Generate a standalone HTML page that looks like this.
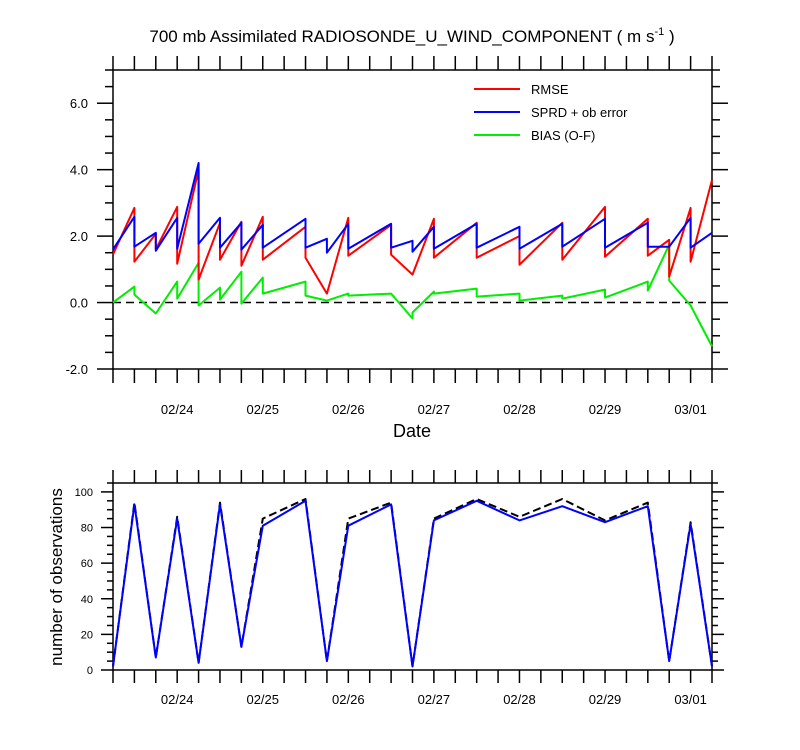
<!DOCTYPE html>
<html><head><meta charset="utf-8"><style>
body{margin:0;background:#fff;}
svg{display:block;font-family:"Liberation Sans",sans-serif;}
</style></head><body>
<svg id="c" width="800" height="750" xmlns="http://www.w3.org/2000/svg"></svg>
<script>
// data (hours since 02/23 06Z)
const dateLabels=["02/24","02/25","02/26","02/27","02/28","02/29","03/01"];
const dateHours=[18,42,66,90,114,138,162];
const rmseH=[0,6,6,12,12,18,18,24,24,30,30,36,36,42,42,54,54,60,66,66,78,78,84,90,90,102,102,114,114,126,126,138,138,150,150,156,156,162,162,168];
const rmseV=[1.45,2.85,1.23,2.07,1.6,2.88,1.17,4.0,0.69,2.4,1.29,2.43,1.11,2.58,1.29,2.28,1.35,0.27,2.55,1.41,2.34,1.44,0.84,2.52,1.35,2.4,1.35,2.0,1.14,2.4,1.29,2.88,1.38,2.52,1.41,1.89,0.78,2.85,1.23,3.69];
const sprdH=[0,6,6,12,12,18,18,24,24,30,30,36,36,42,42,54,54,60,60,66,66,78,78,84,84,90,90,102,102,114,114,126,126,138,138,150,150,156,162,162,168];
const sprdV=[1.6,2.58,1.68,2.1,1.56,2.55,1.62,4.2,1.77,2.55,1.65,2.4,1.59,2.34,1.65,2.52,1.65,1.92,1.5,2.37,1.62,2.37,1.65,1.86,1.53,2.28,1.62,2.37,1.65,2.28,1.62,2.37,1.68,2.52,1.65,2.4,1.68,1.68,2.55,1.65,2.1];
const biasH=[0,6,6,12,18,18,24,24,30,30,36,36,42,42,54,54,60,66,66,78,84,84,90,90,102,102,114,114,126,126,138,138,150,150,156,156,162,168];
const biasV=[0,0.48,0.24,-0.33,0.63,0.12,1.2,-0.09,0.45,0.09,0.93,-0.03,0.75,0.27,0.63,0.21,0.06,0.27,0.21,0.27,-0.48,-0.3,0.33,0.27,0.42,0.18,0.27,0.06,0.21,0.12,0.39,0.15,0.63,0.36,1.74,0.66,-0.09,-1.32];
const obsH=[0,6,12,18,24,30,36,42,54,60,66,78,84,90,102,114,126,138,150,156,162,168];
const obsUsed=[2,93,7,85,4,93,13,81,95,5,81,93,2,84,95,84,92,83,92,5,82,2];
const obsTotal=[2,94,7,86,4,94,13,85,96,5,85,94,2,85,96,86,96,84,94,5,83,2];
const topTicks=[-2,0,2,4,6];
const botTicks=[0,20,40,60,80,100];

const svg=document.getElementById('c');
const NS="http://www.w3.org/2000/svg";
const X0=113,X1=712,HMAX=168;
const xs=h=>X0+(h/HMAX)*(X1-X0);
const T0=70,T1=369,TMAX=7,TMIN=-2;
const yt=v=>T0+(TMAX-v)/(TMAX-TMIN)*(T1-T0);
const B0=483,B1=670,BMAX=105;
const yb=v=>B1-v/BMAX*(B1-B0);
function el(tag,a,txt){const e=document.createElementNS(NS,tag);for(const k in a)e.setAttribute(k,a[k]);if(txt!==undefined)e.textContent=txt;svg.appendChild(e);return e;}
function line(x1,y1,x2,y2,n){const e=el('line',{x1,y1,x2,y2,stroke:'#000','stroke-width':1.5});

return e;}
function poly(H,V,yf,col,n,dash){const p=H.map((h,i)=>xs(h).toFixed(1)+','+yf(V[i]).toFixed(1)).join(' ');
const e=el('polyline',{points:p,fill:'none',stroke:col,'stroke-width':2,'stroke-linejoin':'round'});if(dash)e.setAttribute('stroke-dasharray',dash);

}
function text(x,y,s,t,anchor,n,extra){const e=el('text',Object.assign({x,y,'font-size':s,'text-anchor':anchor||'middle'},extra||{}),t);

return e;}

// title
const ti=text(412,42,17,'700 mb Assimilated RADIOSONDE_U_WIND_COMPONENT ( m s','middle','chart-title');
const sup=document.createElementNS(NS,'tspan');sup.setAttribute('font-size',11);sup.setAttribute('dy',-7);sup.textContent='-1';ti.appendChild(sup);
const t2=document.createElementNS(NS,'tspan');t2.setAttribute('dy',7);t2.textContent=' )';ti.appendChild(t2);

// top frame
const fr=el('rect',{x:X0,y:T0,width:X1-X0,height:T1-T0,fill:'none',stroke:'#000','stroke-width':1.5});


for(let h=0;h<=HMAX;h+=6){line(xs(h),T1,xs(h),T1+14,'x-tick');line(xs(h),T0,xs(h),T0-14,'x-tick-top');}
for(let v=-2;v<=7;v+=0.5){const maj=topTicks.includes(v);const L=maj?16:8;line(X0-L,yt(v),X0,yt(v),'y-tick');line(X1,yt(v),X1+L,yt(v),'y-tick-right');}
topTicks.forEach(v=>text(88,yt(v)+5,13,v.toFixed(1),'end','y-tick-label'));
dateHours.forEach((h,i)=>text(xs(h),414,13,dateLabels[i],'middle','x-tick-label'));
text(412,437,18,'Date','middle','x-axis-title');
const zl=el('line',{x1:X0,y1:yt(0),x2:X1,y2:yt(0),stroke:'#000','stroke-width':1.5,'stroke-dasharray':'8,5'});


poly(biasH,biasV,yt,'#00ee00','bias-line');
poly(rmseH,rmseV,yt,'#ff0000','rmse-line');
poly(sprdH,sprdV,yt,'#0000ff','sprd-line');
// legend
[['RMSE','#ff0000',89],['SPRD + ob error','#0000ff',112],['BIAS (O-F)','#00ee00',135]].forEach(([t,c,y])=>{
 const l=el('line',{x1:474,y1:y,x2:520,y2:y,stroke:c,'stroke-width':2});
 
 
 text(531,y+5,13,t,'start','legend-entry');});

// bottom frame
const fb=el('rect',{x:X0,y:B0,width:X1-X0,height:B1-B0,fill:'none',stroke:'#000','stroke-width':1.5});


for(let h=0;h<=HMAX;h+=6){line(xs(h),B1,xs(h),B1+13,'x-tick');line(xs(h),B0,xs(h),B0-13,'x-tick-top');}
for(let v=0;v<=105;v+=5){const maj=v%20===0;const L=maj?12:6;line(X0-L,yb(v),X0,yb(v),'y-tick');line(X1,yb(v),X1+L,yb(v),'y-tick-right');}
botTicks.forEach(v=>text(93,yb(v)+4,11,String(v),'end','y-tick-label'));
dateHours.forEach((h,i)=>text(xs(h),704,13,dateLabels[i],'middle','x-tick-label'));
text(62,577,17,'number of observations','middle','y-axis-title',{transform:'rotate(-90 62 577)'});
poly(obsH,obsTotal,yb,'#000','obs-total-line','8,4');
poly(obsH,obsUsed,yb,'#0000ff','obs-used-line');
</script>
</body></html>
